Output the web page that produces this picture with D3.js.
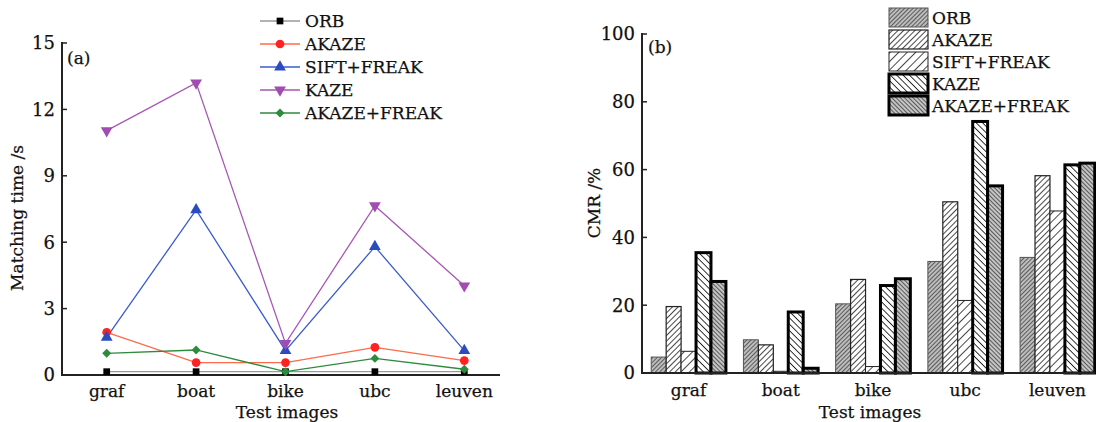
<!DOCTYPE html>
<html>
<head>
<meta charset="utf-8">
<script src="https://d3js.org/d3.v7.min.js"></script>
<style>
  body { margin: 0; background: #fff; }
  svg text { font-family: "DejaVu Serif", serif; fill: #111; stroke: #111; stroke-width: 0.25; }
</style>
</head>
<body>
<svg id="chart" width="1096" height="422"></svg>
<script>
// data
var images = ["graf", "boat", "bike", "ubc", "leuven"];
var methods = ["ORB", "AKAZE", "SIFT+FREAK", "KAZE", "AKAZE+FREAK"];

// (a) matching time, seconds
var timeORB = [0.15, 0.15, 0.15, 0.15, 0.15];
var timeAKAZE = [1.93, 0.56, 0.56, 1.25, 0.65];
var timeSIFTFREAK = [1.7, 7.46, 1.1, 5.8, 1.1];
var timeKAZE = [11.04, 13.2, 1.43, 7.65, 4.03];
var timeAKAZEFREAK = [0.98, 1.13, 0.15, 0.75, 0.26];
var timeTicks = [0, 3, 6, 9, 12, 15];

// (b) CMR, percent
var cmrORB = [4.7, 9.8, 20.4, 32.9, 34.1];
var cmrAKAZE = [19.6, 8.3, 27.6, 50.5, 58.2];
var cmrSIFTFREAK = [6.4, 0.5, 1.9, 21.4, 47.8];
var cmrKAZE = [35.5, 18.0, 25.8, 74.2, 61.4];
var cmrAKAZEFREAK = [27.0, 1.4, 27.8, 55.2, 61.9];
var cmrTicks = [0, 20, 40, 60, 80, 100];

var svg = d3.select("#chart");

// ---------- panel (a) ----------
var lineSeries = [
  {name: "ORB", values: timeORB, line: "#999", mark: "#000", shape: d3.symbolSquare, size: 45},
  {name: "AKAZE", values: timeAKAZE, line: "#ff6a4a", mark: "#f22", shape: d3.symbolCircle, size: 60},
  {name: "SIFT+FREAK", values: timeSIFTFREAK, line: "#3a5ccc", mark: "#2a4cc0", shape: d3.symbolTriangle, size: 60},
  {name: "KAZE", values: timeKAZE, line: "#a855b5", mark: "#a04cb0", shape: d3.symbolTriangle, size: 60, rot: 180},
  {name: "AKAZE+FREAK", values: timeAKAZEFREAK, line: "#2e8b3e", mark: "#2e8b3e", shape: d3.symbolSquare, size: 40, rot: 45}
];

var xa = d3.scalePoint().domain(images).range([62, 509]).padding(0.5);
var ya = d3.scaleLinear().domain([0, 15]).range([375, 43]);

var ga = svg.append("g");

// axes
ga.append("line").attr("x1", 62).attr("x2", 62).attr("y1", 375).attr("y2", 42)
  .attr("stroke", "#222").attr("stroke-width", 2);
ga.append("line").attr("x1", 61).attr("x2", 500).attr("y1", 375).attr("y2", 375)
  .attr("stroke", "#222").attr("stroke-width", 2);
timeTicks.forEach(function(t) {
  ga.append("line").attr("x1", 62).attr("x2", 67).attr("y1", ya(t)).attr("y2", ya(t))
    .attr("stroke", "#222").attr("stroke-width", 1.5);
  ga.append("text").attr("x", 55).attr("y", ya(t)).attr("dy", "0.36em")
    .attr("text-anchor", "end").attr("font-size", 18).text(t);
});
images.forEach(function(c) {
  ga.append("text").attr("x", xa(c)).attr("y", 397).attr("text-anchor", "middle")
    .attr("font-size", 17).text(c);
});
ga.append("text").attr("x", 287).attr("y", 418).attr("text-anchor", "middle")
  .attr("font-size", 17).text("Test images");
ga.append("text").attr("transform", "translate(23,218) rotate(-90)")
  .attr("text-anchor", "middle").attr("font-size", 17).text("Matching time /s");
ga.append("text").attr("x", 67).attr("y", 64).attr("font-size", 17).text("(a)");

var line = d3.line().x(function(d, i) { return xa(images[i]); }).y(function(d) { return ya(d); });

lineSeries.forEach(function(s) {
  ga.append("path").attr("d", line(s.values)).attr("fill", "none")
    .attr("stroke", s.line).attr("stroke-width", 1.3);
});
lineSeries.forEach(function(s) {
  ga.selectAll(null).data(s.values).enter().append("path")
    .attr("d", d3.symbol().type(s.shape).size(s.size))
    .attr("transform", function(d, i) {
      return "translate(" + xa(images[i]) + "," + ya(d) + ")" + (s.rot ? " rotate(" + s.rot + ")" : "");
    })
    .attr("fill", s.mark);
});

// legend (a)
lineSeries.forEach(function(s, i) {
  var y = 21 + i * 23;
  ga.append("line").attr("x1", 260).attr("x2", 300).attr("y1", y).attr("y2", y)
    .attr("stroke", s.line).attr("stroke-width", 1.3);
  ga.append("path").attr("d", d3.symbol().type(s.shape).size(s.size))
    .attr("transform", "translate(280," + y + ")" + (s.rot ? " rotate(" + s.rot + ")" : ""))
    .attr("fill", s.mark);
  ga.append("text").attr("x", 305).attr("y", y).attr("dy", "0.36em")
    .attr("font-size", 17).text(s.name);
});

// ---------- panel (b) ----------
var barSeries = [
  {name: "ORB", values: cmrORB, pat: "pORB", stroke: "#555", sw: 1},
  {name: "AKAZE", values: cmrAKAZE, pat: "pAKAZE", stroke: "#222", sw: 1.2},
  {name: "SIFT+FREAK", values: cmrSIFTFREAK, pat: "pSIFT", stroke: "#222", sw: 1},
  {name: "KAZE", values: cmrKAZE, pat: "pKAZE", stroke: "#000", sw: 3},
  {name: "AKAZE+FREAK", values: cmrAKAZEFREAK, pat: "pAF", stroke: "#000", sw: 3}
];

var defs = svg.append("defs");
function hatch(id, spacing, angle, bg, col, w) {
  var p = defs.append("pattern").attr("id", id).attr("patternUnits", "userSpaceOnUse")
    .attr("width", spacing).attr("height", spacing)
    .attr("patternTransform", "rotate(" + angle + ")");
  p.append("rect").attr("width", spacing).attr("height", spacing).attr("fill", bg);
  p.append("line").attr("x1", 0).attr("x2", 0).attr("y1", 0).attr("y2", spacing)
    .attr("stroke", col).attr("stroke-width", w);
}
hatch("pORB", 3, 45, "#bdbdbd", "#3a3a3a", 1.5);
hatch("pAKAZE", 4, 45, "#fff", "#1a1a1a", 1.6);
hatch("pSIFT", 6, 45, "#fff", "#1a1a1a", 1.6);
hatch("pKAZE", 4.5, -45, "#fff", "#111", 1.7);
hatch("pAF", 3, -45, "#c4c4c4", "#2a2a2a", 1.4);

var xb = d3.scaleBand().domain(images).range([642, 1104]).paddingInner(0.19).paddingOuter(0.1);
var xb1 = d3.scaleBand().domain(methods).range([0, xb.bandwidth()]);
var yb = d3.scaleLinear().domain([0, 100]).range([373, 34]);

var gb = svg.append("g");

images.forEach(function(c, ci) {
  barSeries.forEach(function(s) {
    var v = s.values[ci];
    gb.append("rect")
      .attr("x", xb(c) + xb1(s.name))
      .attr("y", yb(v))
      .attr("width", xb1.bandwidth())
      .attr("height", yb(0) - yb(v))
      .attr("fill", "url(#" + s.pat + ")")
      .attr("stroke", s.stroke).attr("stroke-width", s.sw);
  });
});

gb.append("line").attr("x1", 642).attr("x2", 642).attr("y1", 373).attr("y2", 33)
  .attr("stroke", "#222").attr("stroke-width", 2);
gb.append("line").attr("x1", 641).attr("x2", 1095).attr("y1", 373).attr("y2", 373)
  .attr("stroke", "#222").attr("stroke-width", 2);
cmrTicks.forEach(function(t) {
  gb.append("line").attr("x1", 642).attr("x2", 647).attr("y1", yb(t)).attr("y2", yb(t))
    .attr("stroke", "#222").attr("stroke-width", 1.5);
  gb.append("text").attr("x", 635).attr("y", yb(t)).attr("dy", "0.36em")
    .attr("text-anchor", "end").attr("font-size", 18).text(t);
});
images.forEach(function(c) {
  gb.append("text").attr("x", xb(c) + xb.bandwidth() / 2).attr("y", 396)
    .attr("text-anchor", "middle").attr("font-size", 17).text(c);
});
gb.append("text").attr("x", 870).attr("y", 418).attr("text-anchor", "middle")
  .attr("font-size", 17).text("Test images");
gb.append("text").attr("transform", "translate(600,203) rotate(-90)")
  .attr("text-anchor", "middle").attr("font-size", 17).text("CMR /%");
gb.append("text").attr("x", 648).attr("y", 53).attr("font-size", 17).text("(b)");

// legend (b)
barSeries.forEach(function(s, i) {
  var y = 8 + i * 22;
  gb.append("rect").attr("x", 889).attr("y", y).attr("width", 39).attr("height", 19)
    .attr("fill", "url(#" + s.pat + ")")
    .attr("stroke", s.stroke).attr("stroke-width", s.sw);
  gb.append("text").attr("x", 932).attr("y", y + 10).attr("dy", "0.36em")
    .attr("font-size", 17).text(s.name);
});
</script>
</body>
</html>
